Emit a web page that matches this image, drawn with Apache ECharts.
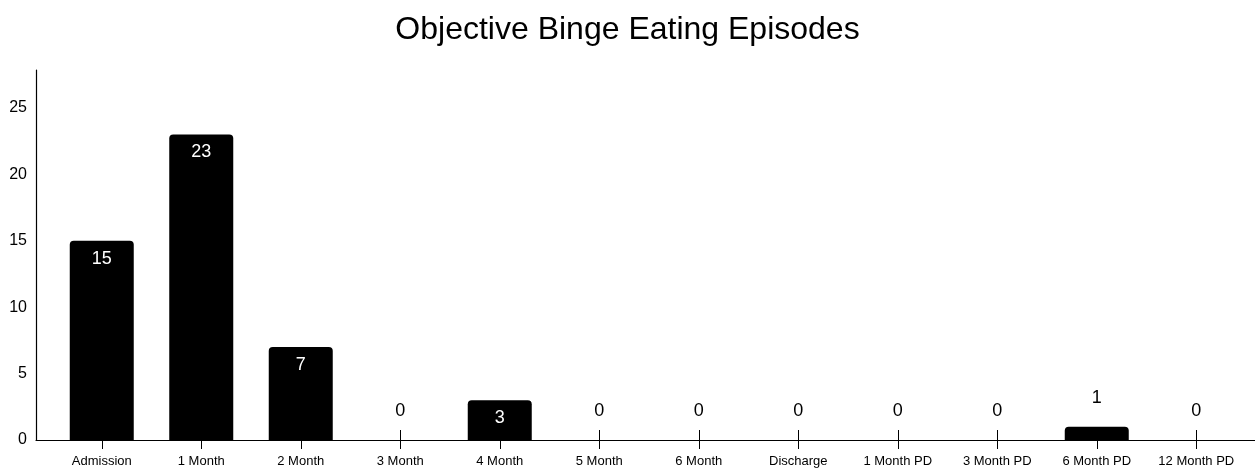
<!DOCTYPE html>
<html>
<head>
<meta charset="utf-8">
<script src="https://cdn.jsdelivr.net/npm/echarts@6/dist/echarts.min.js"></script>
<style>
html,body{margin:0;padding:0;background:#fff;}
#chart{width:1255px;height:469px;}
</style>
</head>
<body>
<div id="chart"></div>
<script>
var categories = ['Admission','1 Month','2 Month','3 Month','4 Month','5 Month','6 Month','Discharge','1 Month PD','3 Month PD','6 Month PD','12 Month PD'];
var episodes = [15, 23, 7, 0, 3, 0, 0, 0, 0, 0, 1, 0];
var yTicks = [0, 5, 10, 15, 20, 25];

var fontName = '"Liberation Sans", Arial, Helvetica, sans-serif';

// bars tall enough get the value inside, short ones get it on top
function buildData(vals){
	var out = [];
	for(var i=0;i<vals.length;i++){
		var inside = vals[i] >= 3;
		out.push({
			value: vals[i],
			label: inside ? {position:'insideTop', distance:9, color:'#fff'}
			              : {position:'top', distance:20, color:'#000'}
		});
	}
	return out;
}

var myChart = echarts.init(document.getElementById('chart'));
var option = {
	backgroundColor: '#fff',
	animation: false,
	title: {
		text: 'Objective Binge Eating Episodes',
		left: 'center',
		top: 9,
		textStyle: {fontFamily: fontName, fontSize: 32, fontWeight: 'normal', color: '#000'}
	},
	grid: [
		{left: 52, right: 9, top: 70, bottom: 29},
		// only carries the long baseline
		{left: 36, right: 0, top: 70, bottom: 29}
	],
	xAxis: [
		{
			type: 'category',
			gridIndex: 0,
			position: 'bottom',
			data: categories,
			axisLine: {show: false},
			axisTick: {show: true, alignWithLabel: true, length: 9, lineStyle: {color: '#000'}},
			axisLabel: {interval: 0, margin: 15, fontFamily: fontName, fontSize: 13, color: '#000'}
		},
		{
			type: 'category',
			gridIndex: 0,
			position: 'bottom',
			data: categories,
			axisLine: {show: false},
			axisTick: {show: true, inside: true, alignWithLabel: true, length: 10, lineStyle: {color: '#000'}},
			axisLabel: {show: false}
		},
		{
			type: 'value',
			gridIndex: 1,
			position: 'bottom',
			min: 0, max: 1,
			axisLine: {show: true, lineStyle: {color: '#000', width: 1.2}},
			axisTick: {show: false},
			axisLabel: {show: false},
			splitLine: {show: false}
		}
	],
	yAxis: [
		{
			type: 'value',
			gridIndex: 0,
			min: 0,
			max: 27.85,
			interval: 5,
			offset: 16,
			axisLine: {show: true, lineStyle: {color: '#000', width: 1.2}},
			axisTick: {show: false},
			splitLine: {show: false},
			axisLabel: {
				margin: 9, fontFamily: fontName, fontSize: 16, color: '#000',
				formatter: function(v){ return yTicks.indexOf(v) >= 0 ? v : ''; }
			}
		},
		{
			type: 'value',
			gridIndex: 1,
			show: false
		}
	],
	series: [
		{
			type: 'bar',
			xAxisIndex: 0,
			yAxisIndex: 0,
			data: buildData(episodes),
			barWidth: 64,
			itemStyle: {color: '#000', borderRadius: [4, 4, 0, 0]},
			label: {show: true, fontFamily: fontName, fontSize: 18}
		}
	]
};
myChart.setOption(option, true);
</script>
</body>
</html>
